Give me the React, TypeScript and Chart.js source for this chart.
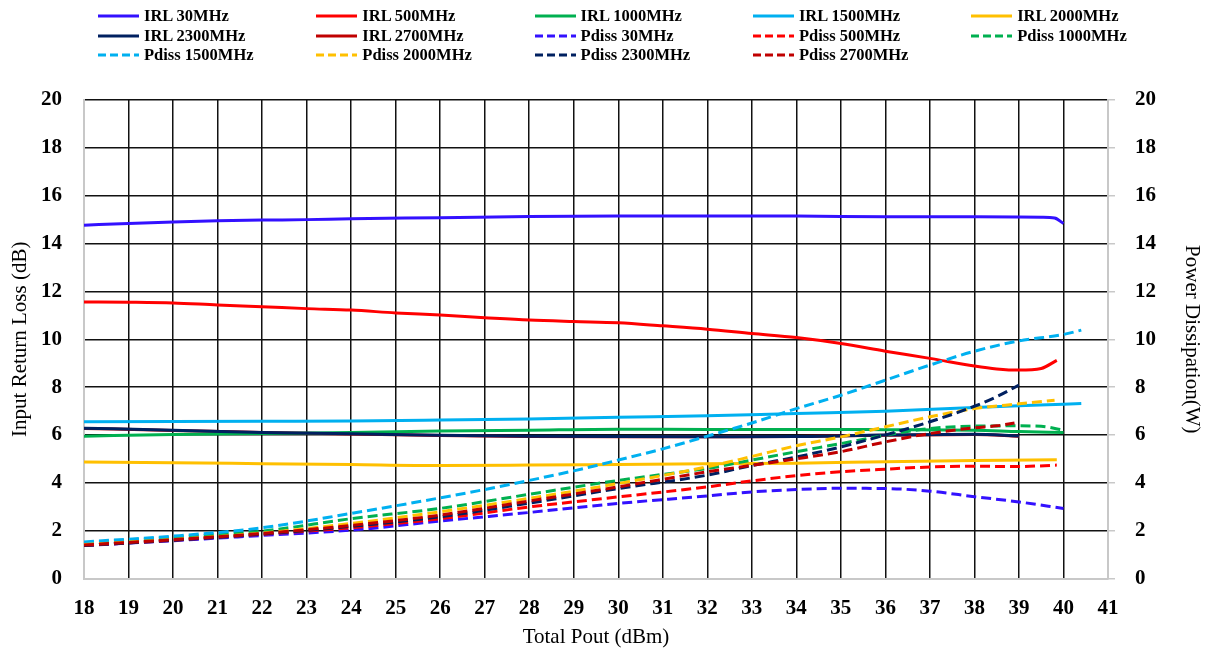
import React, { useEffect, useRef } from 'react';
import { Chart, registerables } from 'chart.js';

Chart.register(...registerables);

// ---------- data ----------
const xTicksMin = 18;
const xTicksMax = 41;
const yTicksMin = 0;
const yTicksMax = 20;

const irl30X = [18, 19, 20, 21, 22, 23, 24, 26, 28, 30, 32, 34, 36, 38, 39, 39.5, 39.8, 40];
const irl30Y = [14.77, 14.84, 14.9, 14.95, 14.98, 15.0, 15.04, 15.08, 15.13, 15.15, 15.15, 15.15, 15.12, 15.12, 15.11, 15.1, 15.07, 14.84];

const irl500X = [18, 19, 20, 21, 22, 23, 24, 25, 26, 27, 28, 29, 30, 31, 32, 33, 34, 35, 36, 37, 38, 38.5, 39, 39.5, 39.85];
const irl500Y = [11.56, 11.55, 11.52, 11.43, 11.36, 11.28, 11.22, 11.1, 11.01, 10.9, 10.8, 10.74, 10.69, 10.56, 10.42, 10.24, 10.07, 9.82, 9.5, 9.2, 8.88, 8.76, 8.71, 8.78, 9.12];

const irl1000X = [18, 20, 22, 24, 26, 28, 30, 32, 34, 36, 38, 39, 40];
const irl1000Y = [5.95, 6.02, 6.06, 6.1, 6.16, 6.2, 6.24, 6.23, 6.23, 6.22, 6.2, 6.14, 6.1];

const irl1500X = [18, 20, 22, 24, 26, 28, 30, 32, 34, 36, 38, 39, 40, 40.4];
const irl1500Y = [6.55, 6.56, 6.57, 6.58, 6.62, 6.67, 6.74, 6.8, 6.9, 6.99, 7.15, 7.22, 7.28, 7.31];

const irl2000X = [18, 20, 22, 24, 26, 28, 30, 32, 34, 36, 38, 39.85];
const irl2000Y = [4.87, 4.84, 4.8, 4.76, 4.72, 4.74, 4.77, 4.8, 4.82, 4.88, 4.93, 4.96];

const irl2300X = [18, 20, 22, 24, 26, 28, 30, 32, 34, 36, 38, 39];
const irl2300Y = [6.28, 6.2, 6.1, 6.05, 5.99, 5.95, 5.93, 5.92, 5.93, 6.0, 6.03, 5.96];

const irl2700X = [18, 20, 22, 24, 26, 28, 30, 32, 34, 36, 38, 39];
const irl2700Y = [6.27, 6.19, 6.1, 6.04, 5.98, 5.94, 5.92, 5.92, 5.93, 5.99, 6.02, 5.95];

const pd30X = [18, 20, 22, 24, 26, 28, 30, 32, 33, 34, 35, 36, 37, 38, 39, 40];
const pd30Y = [1.38, 1.58, 1.8, 2.02, 2.4, 2.76, 3.14, 3.45, 3.62, 3.72, 3.77, 3.76, 3.65, 3.42, 3.2, 2.93];

const pd500X = [18, 20, 22, 24, 26, 28, 30, 32, 33, 34, 35, 36, 37, 38, 39, 39.85];
const pd500Y = [1.38, 1.6, 1.85, 2.12, 2.5, 2.99, 3.41, 3.83, 4.08, 4.3, 4.46, 4.57, 4.66, 4.69, 4.68, 4.74];

const pd1000X = [18, 20, 22, 24, 26, 28, 30, 31, 32, 33, 34, 35, 36, 37, 38, 39, 39.5, 40];
const pd1000Y = [1.49, 1.72, 1.98, 2.5, 2.93, 3.52, 4.1, 4.35, 4.6, 4.95, 5.3, 5.64, 5.99, 6.27, 6.37, 6.38, 6.36, 6.2];

const pd1500X = [18, 20, 22, 24, 26, 27, 28, 29, 30, 31, 32, 33, 34, 35, 36, 37, 38, 39, 40, 40.4];
const pd1500Y = [1.53, 1.77, 2.12, 2.72, 3.37, 3.72, 4.1, 4.5, 4.95, 5.42, 5.95, 6.5, 7.1, 7.66, 8.29, 8.92, 9.5, 9.93, 10.2, 10.38];

const pd2000X = [18, 20, 22, 24, 26, 28, 30, 32, 33, 34, 35, 36, 37, 38, 39, 39.8];
const pd2000Y = [1.42, 1.63, 1.9, 2.3, 2.79, 3.35, 3.97, 4.67, 5.1, 5.55, 5.92, 6.34, 6.76, 7.1, 7.3, 7.45];

const pd2300X = [18, 20, 22, 24, 26, 28, 30, 32, 33, 34, 35, 36, 37, 38, 38.5, 39];
const pd2300Y = [1.38, 1.6, 1.86, 2.18, 2.58, 3.15, 3.76, 4.32, 4.72, 5.08, 5.5, 6.0, 6.55, 7.2, 7.6, 8.08];

const pd2700X = [18, 20, 22, 24, 26, 28, 30, 32, 33, 34, 35, 36, 37, 38, 38.5, 38.9];
const pd2700Y = [1.4, 1.62, 1.88, 2.22, 2.65, 3.24, 3.83, 4.46, 4.73, 5.0, 5.3, 5.71, 6.06, 6.3, 6.38, 6.5];

const BLUE = '#3311FF';
const RED = '#FF0000';
const GREEN = '#00B050';
const LIGHTBLUE = '#00B0F0';
const YELLOW = '#FFC000';
const NAVY = '#002060';
const DARKRED = '#C00000';

const series = [
  { label: 'IRL 30MHz', x: irl30X, y: irl30Y, color: BLUE, dashed: false },
  { label: 'IRL 500MHz', x: irl500X, y: irl500Y, color: RED, dashed: false },
  { label: 'IRL 1000MHz', x: irl1000X, y: irl1000Y, color: GREEN, dashed: false },
  { label: 'IRL 1500MHz', x: irl1500X, y: irl1500Y, color: LIGHTBLUE, dashed: false },
  { label: 'IRL 2000MHz', x: irl2000X, y: irl2000Y, color: YELLOW, dashed: false },
  { label: 'IRL 2300MHz', x: irl2300X, y: irl2300Y, color: NAVY, dashed: false },
  { label: 'IRL 2700MHz', x: irl2700X, y: irl2700Y, color: DARKRED, dashed: false },
  { label: 'Pdiss 30MHz', x: pd30X, y: pd30Y, color: BLUE, dashed: true },
  { label: 'Pdiss 500MHz', x: pd500X, y: pd500Y, color: RED, dashed: true },
  { label: 'Pdiss 1000MHz', x: pd1000X, y: pd1000Y, color: GREEN, dashed: true },
  { label: 'Pdiss 1500MHz', x: pd1500X, y: pd1500Y, color: LIGHTBLUE, dashed: true },
  { label: 'Pdiss 2000MHz', x: pd2000X, y: pd2000Y, color: YELLOW, dashed: true },
  { label: 'Pdiss 2300MHz', x: pd2300X, y: pd2300Y, color: NAVY, dashed: true },
  { label: 'Pdiss 2700MHz', x: pd2700X, y: pd2700Y, color: DARKRED, dashed: true },
];

const SERIF = "'Liberation Serif', 'Times New Roman', serif";
const GRID = '#111111';
const AXIS = '#C8C8C8';
const DASH = [10, 5];

export default function App() {
  const ref = useRef<HTMLCanvasElement>(null);

  useEffect(() => {
    if (!ref.current) return;
    const n = series.length;
    const datasets = series.map((s, i) => {
      // IRL 2700 is hidden beneath IRL 2300 in the reference
      let order = n - i;
      if (s.label === 'IRL 2700MHz') order = n + 1;
      return {
        label: s.label,
        data: s.x.map((xv, k) => ({ x: xv, y: s.y[k] })),
        borderColor: s.color,
        backgroundColor: s.color,
        borderWidth: 3,
        borderDash: s.dashed ? DASH : [],
        pointRadius: 0,
        pointHoverRadius: 0,
        fill: false,
        cubicInterpolationMode: 'monotone' as const,
        yAxisID: s.dashed ? 'y1' : 'y',
        order,
      };
    });

    const chart = new Chart(ref.current, {
      type: 'line',
      data: { datasets },
      options: {
        animation: false,
        responsive: false,
        devicePixelRatio: 1,
        layout: { padding: { top: 100, left: 0, right: 0, bottom: 0 } },
        plugins: {
          legend: { display: false },
          tooltip: { enabled: false },
          title: { display: false },
        },
        scales: {
          x: {
            type: 'linear',
            min: xTicksMin,
            max: xTicksMax,
            ticks: {
              stepSize: 1,
              autoSkip: false,
              maxRotation: 0,
              color: '#000',
              padding: 17,
              font: { family: SERIF, size: 21, weight: 'bold' },
            },
            grid: {
              drawTicks: false,
              lineWidth: 1.5,
              color: (ctx: any) =>
                ctx.tick && (ctx.tick.value === xTicksMin || ctx.tick.value === xTicksMax)
                  ? 'rgba(0,0,0,0)'
                  : GRID,
            },
            border: { color: AXIS, width: 2 },
            title: {
              display: true,
              text: 'Total Pout (dBm)',
              color: '#000',
              font: { family: SERIF, size: 21 },
              padding: { top: 0, bottom: 1 },
            },
            afterFit: (s: any) => {
              s.height = 72.5;
            },
          },
          y: {
            type: 'linear',
            position: 'left',
            min: yTicksMin,
            max: yTicksMax,
            ticks: {
              stepSize: 2,
              color: '#000',
              padding: 22,
              font: { family: SERIF, size: 21, weight: 'bold' },
            },
            grid: {
              drawTicks: false,
              lineWidth: 1.5,
              color: (ctx: any) =>
                ctx.tick && ctx.tick.value === yTicksMin ? 'rgba(0,0,0,0)' : GRID,
            },
            border: { color: AXIS, width: 2 },
            title: {
              display: true,
              text: 'Input Return Loss (dB)',
              color: '#000',
              font: { family: SERIF, size: 21 },
              padding: { top: 8, bottom: 0 },
            },
            afterFit: (s: any) => {
              s.width = 84;
            },
          },
          y1: {
            type: 'linear',
            position: 'right',
            min: yTicksMin,
            max: yTicksMax,
            ticks: {
              stepSize: 2,
              color: '#000',
              padding: 20,
              font: { family: SERIF, size: 21, weight: 'bold' },
            },
            grid: {
              drawOnChartArea: false,
              drawTicks: true,
              tickLength: 7,
              color: AXIS,
              lineWidth: 1.5,
            },
            border: { color: AXIS, width: 2 },
            title: {
              display: true,
              text: 'Power Dissipation(W)',
              color: '#000',
              font: { family: SERIF, size: 21 },
              padding: { top: 1, bottom: 0 },
            },
            afterFit: (s: any) => {
              s.width = 97;
            },
          },
        },
      },
    });
    return () => chart.destroy();
  }, []);

  const rowCenters = [16, 35.5, 55];
  const colStep = 218.3;
  const colStart = 98;

  return (
    <div
      style={{
        position: 'absolute',
        left: 0,
        top: 0,
        width: 1205,
        height: 651,
        background: '#fff',
        overflow: 'hidden',
      }}
    >
      <canvas
        ref={ref}
        width={1205}
        height={651}
        style={{ position: 'absolute', left: 0, top: 0, width: 1205, height: 651 }}
      />
      {series.map((s, i) => {
        const row = Math.floor(i / 5);
        const col = i % 5;
        return (
          <div
            key={s.label}
            style={{
              position: 'absolute',
              left: colStart + col * colStep,
              top: rowCenters[row] - 10,
              height: 20,
              display: 'flex',
              alignItems: 'center',
              whiteSpace: 'nowrap',
              fontFamily: SERIF,
              fontWeight: 'bold',
              fontSize: 16.5,
              color: '#000',
            }}
          >
            <svg width={41} height={6} style={{ display: 'block' }}>
              <line
                x1={0}
                y1={3}
                x2={41}
                y2={3}
                stroke={s.color}
                strokeWidth={3}
                strokeDasharray={s.dashed ? '8 4' : undefined}
              />
            </svg>
            <span style={{ marginLeft: 5, lineHeight: '20px' }}>{s.label}</span>
          </div>
        );
      })}
    </div>
  );
}
